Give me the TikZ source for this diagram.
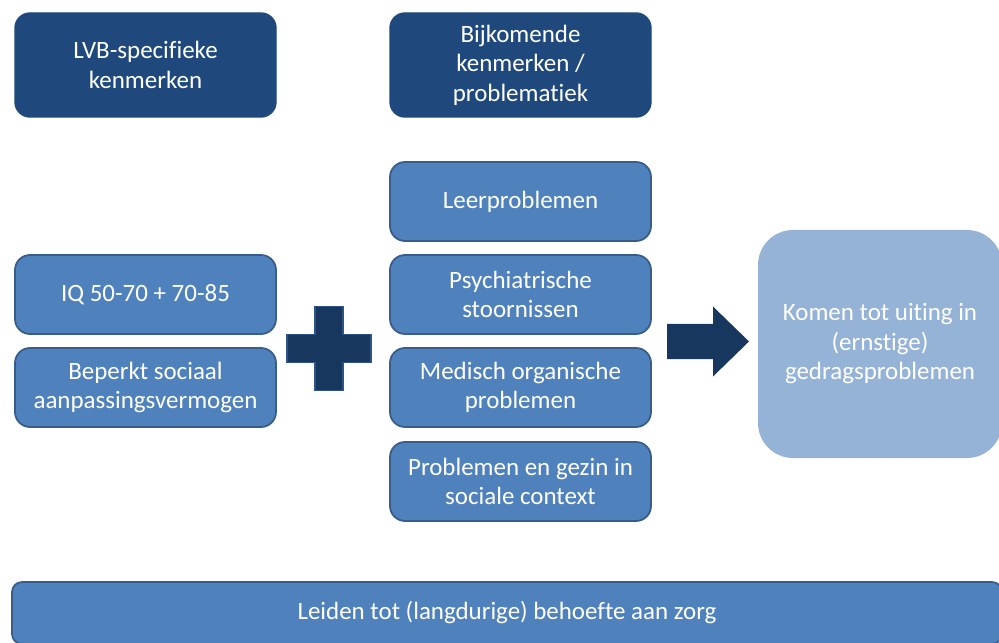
\documentclass[tikz,border=0pt]{standalone}
\usepackage{fontspec}
\setmainfont[Ligatures={NoCommon}]{Carlito}
\usepackage{tikz}
\usetikzlibrary{positioning}
\definecolor{D}{RGB}{31, 73, 125}
\definecolor{DD}{RGB}{23, 55, 94}
\definecolor{M}{RGB}{79, 129, 189}
\definecolor{MB}{RGB}{56, 93, 138}
\definecolor{L}{RGB}{149, 179, 215}
\definecolor{PB}{RGB}{44, 84, 135}
\tikzset{
   kop/.style={rounded corners=0.3cm, fill=D, draw=D, line width=0.8pt, text=white,
      minimum width=5.22cm, minimum height=2.08cm, align=center,
      font=\fontsize{14.2}{16.8}\selectfont},
   vak/.style={rounded corners=0.3cm, fill=M, draw=MB, line width=1pt, text=white,
      minimum width=5.22cm, minimum height=1.58cm, align=center,
      font=\fontsize{14.2}{16.8}\selectfont}
}

\begin{document}
\begin{tikzpicture}
   \useasboundingbox (0,0) rectangle (19.98,12.84);
   % kopjes
   \node[kop] (lvb) at (2.91,11.54) {LVB-specifieke\\kenmerken};
   \node[kop] (bijk) at (10.41,11.54) {Bijkomende\\kenmerken /\\problematiek};
   % linker kolom
   \node[vak] (iq) at (2.91,6.95) {IQ 50-70 + 70-85};
   \node[vak] (sociaal) at (2.91,5.09) {Beperkt sociaal\\aanpassingsvermogen};
   % middelste kolom
   \node[vak] (leer) at (10.41,8.81) {Leerproblemen};
   \node[vak] (psych) at (10.41,6.95) {Psychiatrische\\stoornissen};
   \node[vak] (medisch) at (10.41,5.09) {Medisch organische\\problemen};
   \node[vak] (gezin) at (10.41,3.21) {Problemen en gezin in\\sociale context};
   % plus
   \filldraw[fill=DD, draw=PB, line width=0.8pt]
      (6.30,6.71) -- (6.86,6.71) -- (6.86,6.15) -- (7.42,6.15) -- (7.42,5.59)
      -- (6.86,5.59) -- (6.86,5.03) -- (6.30,5.03) -- (6.30,5.59) -- (5.74,5.59)
      -- (5.74,6.15) -- (6.30,6.15) -- cycle;
   % pijl
   \fill[DD] (13.34,6.36) -- (14.26,6.36) -- (14.26,6.71) -- (14.98,6.01)
      -- (14.26,5.31) -- (14.26,5.66) -- (13.34,5.66) -- cycle;
   % rechts
   \node[rounded corners=0.7cm, fill=L, text=white, minimum width=4.88cm,
      minimum height=4.56cm, align=center, font=\fontsize{14.2}{16.8}\selectfont]
      (uiting) at (17.6,5.96) {Komen tot uiting in\\(ernstige)\\gedragsproblemen};
   % onderaan
   \node[vak, rounded corners=0.2cm, minimum width=19.8cm, minimum height=1.24cm]
      (zorg) at (10.14,0.58) {Leiden tot (langdurige) behoefte aan zorg};
\end{tikzpicture}
\end{document}
